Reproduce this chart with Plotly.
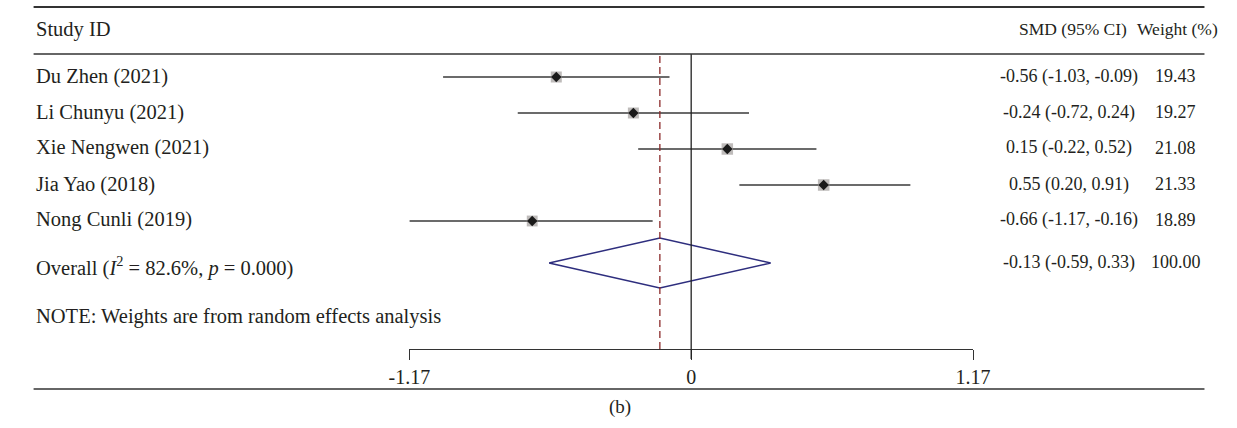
import math
import plotly.graph_objects as go

# ---------------- data ----------------
studies = ["Du Zhen (2021)", "Li Chunyu (2021)", "Xie Nengwen (2021)", "Jia Yao (2018)", "Nong Cunli (2019)"]
smd = [-0.56, -0.24, 0.15, 0.55, -0.66]
ci_low = [-1.03, -0.72, -0.22, 0.20, -1.17]
ci_high = [-0.09, 0.24, 0.52, 0.91, -0.16]
weights = [19.43, 19.27, 21.08, 21.33, 18.89]

overall_smd = -0.13
overall_low = -0.59
overall_high = 0.33
overall_weight = 100.00
i_squared = 82.6
p_value = 0.000

axis_ticks = [-1.17, 0, 1.17]
tick_labels = ["-1.17", "0", "1.17"]

# ---------------- layout constants ----------------
W, H = 1237, 428
ROW0, STEP = 77, 36          # pixel y of first row, row spacing
FONT = "Liberation Serif"
FS = 20.5
FS_R = 18
FS_H = 17.5
TXT = "#231f20"
LINE = "#333333"


def py(p):  # pixel y -> paper
    return 1 - p / H


def pxx(p):  # pixel x -> paper
    return p / W


def row_of(pix):  # pixel y -> row units
    return (pix - ROW0) / STEP


rows = list(range(len(studies)))
overall_row = row_of(263)
dia_h = 25 / STEP

fig = go.Figure()

# CI lines
cx, cy = [], []
for r, lo, hi in zip(rows, ci_low, ci_high):
    cx += [lo, hi, None]
    cy += [r, r, None]
fig.add_trace(go.Scatter(x=cx, y=cy, mode="lines", line=dict(color="#3a3a3a", width=1.6),
                         hoverinfo="skip", showlegend=False))

# weight squares
fig.add_trace(go.Scatter(x=smd, y=rows, mode="markers",
                         marker=dict(symbol="square", size=[2.5 * math.sqrt(w) for w in weights],
                                     color="#a29e9c", line=dict(width=0)),
                         cliponaxis=False, showlegend=False))
# point estimates
fig.add_trace(go.Scatter(x=smd, y=rows, mode="markers",
                         marker=dict(symbol="diamond", size=8, color="#1a1a1a", line=dict(width=0)),
                         cliponaxis=False, showlegend=False))

# overall diamond
fig.add_trace(go.Scatter(
    x=[overall_low, overall_smd, overall_high, overall_smd, overall_low],
    y=[overall_row, overall_row - dia_h, overall_row, overall_row + dia_h, overall_row],
    mode="lines", line=dict(color="#2e2e7e", width=1.5), showlegend=False, hoverinfo="skip"))

shapes = []
# null line
shapes.append(dict(type="line", xref="x", yref="paper", x0=0, x1=0, y0=py(359), y1=py(54),
                   line=dict(color="#222222", width=1.3)))
# overall dashed line
shapes.append(dict(type="line", xref="x", yref="paper", x0=overall_smd, x1=overall_smd,
                   y0=py(349), y1=py(54), line=dict(color="#8b2a2a", width=1.3, dash="7px,4px")))
# horizontal rules
for yp, w in [(7, 1.8), (54, 1.6), (389, 1.6)]:
    shapes.append(dict(type="line", xref="paper", yref="paper", x0=pxx(13), x1=pxx(1222),
                       y0=py(yp), y1=py(yp), line=dict(color=LINE, width=w)))

ann = []


def add_text(text, x, y, xanchor="left", size=FS):
    ann.append(dict(text=text, x=x, y=y, xref="paper", yref="paper", xanchor=xanchor,
                    yanchor="middle", showarrow=False, font=dict(family=FONT, size=size, color=TXT)))


add_text("Study ID", pxx(13), py(29))
add_text("SMD (95% CI)", pxx(1086), py(29), "center", FS_H)
add_text("Weight (%)", pxx(1194), py(29), "center", FS_H)

for r, s, e, lo, hi, w in zip(rows, studies, smd, ci_low, ci_high, weights):
    yy = py(ROW0 + STEP * r - 1)
    add_text(s, pxx(13), yy)
    add_text(f"{e:.2f} ({lo:.2f}, {hi:.2f})", pxx(1082), yy, "center", FS_R)
    add_text(f"{w:.2f}", pxx(1192), yy, "center", FS_R)

add_text(f"Overall (<i>I</i><sup>2</sup> = {i_squared:.1f}%, <i>p</i> = {p_value:.3f})", pxx(13), py(266))
add_text(f"{overall_smd:.2f} ({overall_low:.2f}, {overall_high:.2f})", pxx(1082), py(262), "center", FS_R)
add_text(f"{overall_weight:.2f}", pxx(1193), py(262), "center", FS_R)
add_text("NOTE: Weights are from random effects analysis", pxx(13), py(316))
add_text("(b)", pxx(619), py(407), "center", 19)

fig.update_layout(
    width=W, height=H, autosize=False,
    margin=dict(l=0, r=0, t=0, b=0),
    paper_bgcolor="white", plot_bgcolor="white",
    showlegend=False,
    shapes=shapes, annotations=ann,
    xaxis=dict(domain=[pxx(401), pxx(983)], range=[axis_ticks[0], axis_ticks[-1]],
               anchor="free", position=py(349), showline=True, linecolor=LINE, linewidth=1.3,
               ticks="outside", ticklen=10, tickwidth=1.3, tickcolor=LINE,
               tickvals=axis_ticks, ticktext=tick_labels,
               tickfont=dict(family=FONT, size=20, color=TXT),
               showgrid=False, zeroline=False, fixedrange=True),
    yaxis=dict(domain=[0, 1], range=[row_of(H), row_of(0)], visible=False,
               showgrid=False, zeroline=False, fixedrange=True),
)

fig.write_html("out.html", config={"displayModeBar": False},
               post_script="document.body.style.margin='0';document.body.style.overflow='hidden';")
